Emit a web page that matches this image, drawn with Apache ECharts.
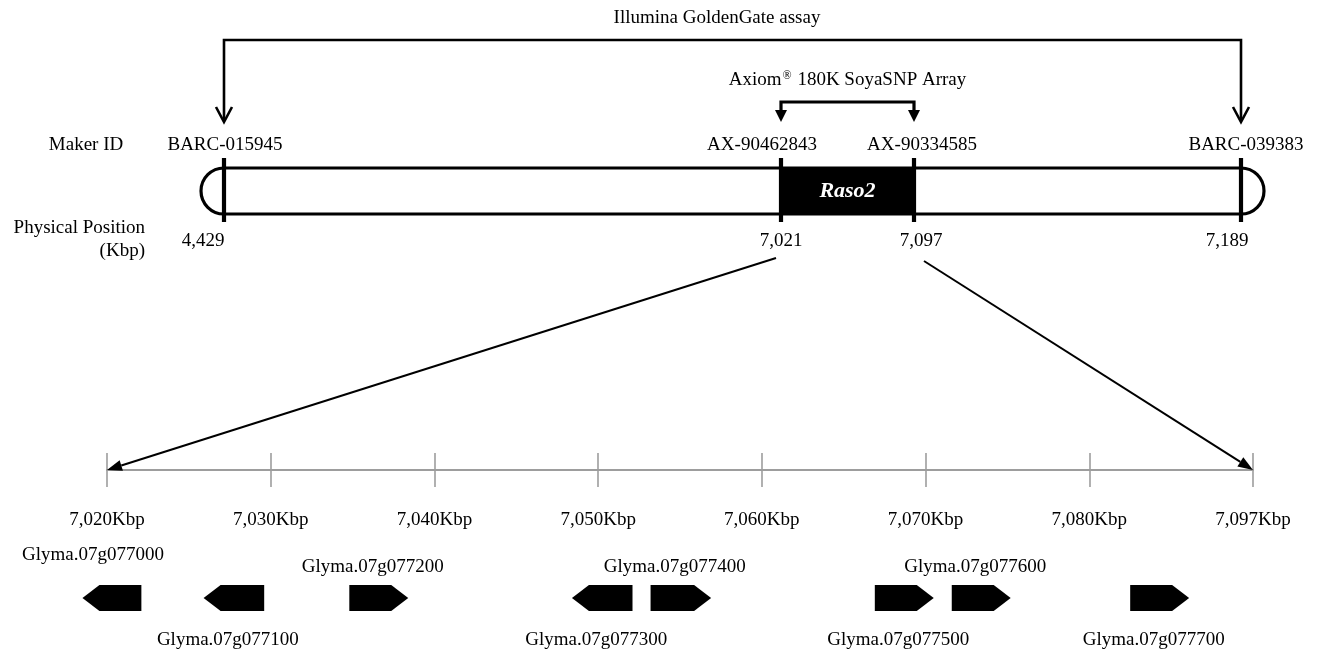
<!DOCTYPE html>
<html><head><meta charset="utf-8">
<script src="https://cdn.jsdelivr.net/npm/echarts@6/dist/echarts.min.js"></script>
<style>html,body{margin:0;padding:0;background:#fff}#c{width:1322px;height:653px}</style>
</head><body><div id="c"></div>
<script>
// ---------------- data ----------------
const assayTitle = 'Illumina GoldenGate assay';
const arrayTitle = ['Axiom', '\u00AE', ' 180K SoyaSNP Array'];
const markerIds = ['BARC-015945', 'AX-90462843', 'AX-90334585', 'BARC-039383'];
const markerKbp = [4429, 7021, 7097, 7189];
const qtlName = 'Raso2';
const sideLabels = ['Maker ID', 'Physical Position', '(Kbp)'];
const scaleTicks = [7020, 7030, 7040, 7050, 7060, 7070, 7080, 7090];
const scaleTickLabels = ['7,020Kbp', '7,030Kbp', '7,040Kbp', '7,050Kbp', '7,060Kbp', '7,070Kbp', '7,080Kbp', '7,097Kbp'];
const geneNames = ['Glyma.07g077000', 'Glyma.07g077100', 'Glyma.07g077200', 'Glyma.07g077300',
                   'Glyma.07g077400', 'Glyma.07g077500', 'Glyma.07g077600', 'Glyma.07g077700'];
const geneStart = [7018.5, 7025.9, 7034.8, 7048.4, 7053.2, 7066.9, 7071.6, 7082.5];
const geneEnd   = [7022.1, 7029.6, 7038.4, 7052.1, 7056.9, 7070.5, 7075.2, 7086.1];
const geneStrand = [-1, -1, 1, -1, 1, 1, 1, 1];

// ---------------- schematic layout (not data) ----------------
const markerSlot = [224, 781, 914, 1241];   // schematic x of each marker on the drawn chromosome
const FONT = '"Liberation Serif", "Times New Roman", serif';
const FS = 19;
const chromY = 191, chromH = 46;

const chart = echarts.init(document.getElementById('c'), null, {renderer: 'canvas'});

function txt(text, x, y, align, extra) {
  return {type: 'text', silent: true, style: Object.assign({
    text: text, x: x, y: y, align: align || 'center', verticalAlign: 'middle',
    font: FS + 'px ' + FONT, fill: '#000'}, extra || {})};
}

// chromosome body
function renderChrom(params, api) {
  const L = api.coord([markerSlot[0], chromY]);
  const R = api.coord([markerSlot[3], chromY]);
  const q0 = api.coord([markerSlot[1], chromY]);
  const q1 = api.coord([markerSlot[2], chromY]);
  const top = L[1] - chromH / 2, bot = L[1] + chromH / 2, r = chromH / 2;
  const ls = {stroke: '#000', lineWidth: 3.2, fill: null};
  return {type: 'group', children: [
    {type: 'rect', shape: {x: q0[0], y: top, width: q1[0] - q0[0], height: chromH}, style: {fill: '#000'}},
    {type: 'line', shape: {x1: L[0], y1: top, x2: R[0], y2: top}, style: ls},
    {type: 'line', shape: {x1: L[0], y1: bot, x2: R[0], y2: bot}, style: ls},
    {type: 'arc', shape: {cx: L[0], cy: L[1], r: r, startAngle: Math.PI / 2, endAngle: Math.PI * 1.5, clockwise: true}, style: ls},
    {type: 'arc', shape: {cx: R[0], cy: R[1], r: r, startAngle: -Math.PI / 2, endAngle: Math.PI / 2, clockwise: true}, style: ls},
    txt(qtlName, (q0[0] + q1[0]) / 2, L[1], 'center', {font: 'italic bold 22px ' + FONT, fill: '#fff'})
  ]};
}

// markers: tick line + id above + position below
const idDx = [1, -19, 8, 5];
const posDx = [-21, 0, 7, -14];
function renderMarker(params, api) {
  const i = params.dataIndex;
  const p = api.coord([api.value(0), chromY]);
  const kbp = api.value(1);
  return {type: 'group', children: [
    {type: 'line', shape: {x1: p[0], y1: p[1] - 33, x2: p[0], y2: p[1] + 31}, style: {stroke: '#000', lineWidth: 4.2}},
    txt(markerIds[i], p[0] + idDx[i], p[1] - 46),
    txt(kbp.toLocaleString('en-US'), p[0] + posDx[i], p[1] + 50)
  ]};
}

// assay brackets
function renderBrackets(params, api) {
  const a = api.coord([markerSlot[0], 40]), b = api.coord([markerSlot[3], 40]);
  const tipY = api.coord([0, 122])[1];
  const c = api.coord([markerSlot[1], 102]), d = api.coord([markerSlot[2], 102]);
  const s1 = {stroke: '#000', lineWidth: 2.6, fill: null};
  const s2 = {stroke: '#000', lineWidth: 3.2, fill: null};
  const vOpen = (x) => ({type: 'polyline', shape: {points: [[x - 8, tipY - 15], [x, tipY], [x + 8, tipY - 15]]}, style: s1});
  const vFill = (x) => ({type: 'polygon', shape: {points: [[x - 6, tipY - 12], [x + 6, tipY - 12], [x, tipY]]}, style: {fill: '#000'}});
  return {type: 'group', children: [
    {type: 'polyline', shape: {points: [[a[0], tipY - 1], [a[0], a[1]], [b[0], b[1]], [b[0], tipY - 1]]}, style: s1},
    vOpen(a[0]), vOpen(b[0]),
    {type: 'polyline', shape: {points: [[c[0], tipY - 11], [c[0], c[1]], [d[0], d[1]], [d[0], tipY - 11]]}, style: s2},
    vFill(c[0]), vFill(d[0]),
    txt(assayTitle, 717, 18, 'center', {font: '19px ' + FONT}),
    txt('{a|' + arrayTitle[0] + '}{s|' + arrayTitle[1] + '}{a|' + arrayTitle[2] + '}', (c[0] + d[0]) / 2, 80, 'center',
        {rich: {a: {fontSize: 19, fontFamily: FONT, color: '#000'}, s: {fontSize: 12, fontFamily: FONT, color: '#000', verticalAlign: 'top', padding: [0, 1, 9, 1]}}}),
    txt(sideLabels[0], 86, 145, 'center'),
    txt(sideLabels[1], 145, 228, 'right'),
    txt(sideLabels[2], 145, 251, 'right')
  ]};
}

// genes on the zoomed scale
function renderGene(params, api) {
  const i = params.dataIndex;
  const s = api.coord([api.value(0), 0]);
  const e = api.coord([api.value(1), 0]);
  const strand = api.value(2);
  const x0 = s[0], x1 = e[0];
  const cy = s[1] + 128, h = 26, tip = 17;
  let pts;
  if (strand > 0) pts = [[x0, cy - h / 2], [x1 - tip, cy - h / 2], [x1, cy], [x1 - tip, cy + h / 2], [x0, cy + h / 2]];
  else pts = [[x0, cy], [x0 + tip, cy - h / 2], [x1, cy - h / 2], [x1, cy + h / 2], [x0 + tip, cy + h / 2]];
  const above = i % 2 === 0;
  const ly = above ? cy - (i === 0 ? 43 : 31) : cy + 42;
  const lx = (x0 + x1) / 2 - (i === 0 ? 19 : 6);
  return {type: 'group', children: [
    {type: 'polygon', shape: {points: pts}, style: {fill: '#000'}},
    txt(geneNames[i], lx, ly)
  ]};
}

const gray = '#9d9d9d';
const option = {
  animation: false,
  backgroundColor: '#fff',
  grid: [
    {left: 0, top: 0, width: 1322, height: 653},
    {left: 107, top: 453, width: 1146, height: 17}
  ],
  xAxis: [
    {gridIndex: 0, type: 'value', min: 0, max: 1322, show: false},
    {gridIndex: 1, type: 'value', min: 7020, max: 7090, interval: 10,
     axisLine: {show: true, lineStyle: {color: gray, width: 2.2}},
     axisTick: {show: true, length: 17, lineStyle: {color: gray, width: 1.6}},
     splitLine: {show: true, lineStyle: {color: gray, width: 1.6}},
     axisLabel: {show: true, margin: 41, fontSize: FS, fontFamily: FONT, color: '#000',
                 showMinLabel: true, showMaxLabel: true,
                 formatter: (v) => scaleTickLabels[scaleTicks.indexOf(Math.round(v))]}}
  ],
  yAxis: [
    {gridIndex: 0, type: 'value', min: 0, max: 653, inverse: true, show: false},
    {gridIndex: 1, type: 'value', min: 0, max: 1, show: false}
  ],
  series: [
    {type: 'custom', name: 'chromosome', xAxisIndex: 0, yAxisIndex: 0, silent: true, clip: false,
     data: [[markerSlot[0], chromY]], renderItem: renderChrom, z: 2},
    {type: 'custom', name: 'markers', xAxisIndex: 0, yAxisIndex: 0, silent: true, clip: false,
     data: markerSlot.map((x, i) => [x, markerKbp[i]]), encode: {x: 0}, renderItem: renderMarker, z: 3},
    {type: 'custom', name: 'assays', xAxisIndex: 0, yAxisIndex: 0, silent: true, clip: false,
     data: [[0, 0]], renderItem: renderBrackets, z: 3},
    {type: 'custom', name: 'genes', xAxisIndex: 1, yAxisIndex: 1, silent: true, clip: false,
     data: geneNames.map((n, i) => [geneStart[i], geneEnd[i], geneStrand[i], i]), encode: {x: [0, 1]},
     renderItem: renderGene, z: 3}
  ]
};
chart.setOption(option);

// zoom-in lines from the QTL interval down to the detailed scale
function arrowLine(a, b) {
  const ang = Math.atan2(b[1] - a[1], b[0] - a[0]);
  const L = 15, W = 5.5;
  const bx = b[0] - L * Math.cos(ang), by = b[1] - L * Math.sin(ang);
  const nx = -Math.sin(ang), ny = Math.cos(ang);
  return [
    {type: 'line', shape: {x1: a[0], y1: a[1], x2: bx, y2: by}, style: {stroke: '#000', lineWidth: 2}, silent: true, z: 10},
    {type: 'polygon', shape: {points: [[b[0], b[1]], [bx + nx * W, by + ny * W], [bx - nx * W, by - ny * W]]}, style: {fill: '#000'}, silent: true, z: 10}
  ];
}
const top0 = chart.convertToPixel({xAxisIndex: 0, yAxisIndex: 0}, [markerSlot[1] - 5, 258]);
const top1 = chart.convertToPixel({xAxisIndex: 0, yAxisIndex: 0}, [markerSlot[2] + 10, 261]);
const bot0 = chart.convertToPixel({xAxisIndex: 1, yAxisIndex: 1}, [scaleTicks[0], 0]);
const bot1 = chart.convertToPixel({xAxisIndex: 1, yAxisIndex: 1}, [scaleTicks[scaleTicks.length - 1], 0]);
chart.setOption({graphic: arrowLine(top0, bot0).concat(arrowLine(top1, bot1))});
</script></body></html>
